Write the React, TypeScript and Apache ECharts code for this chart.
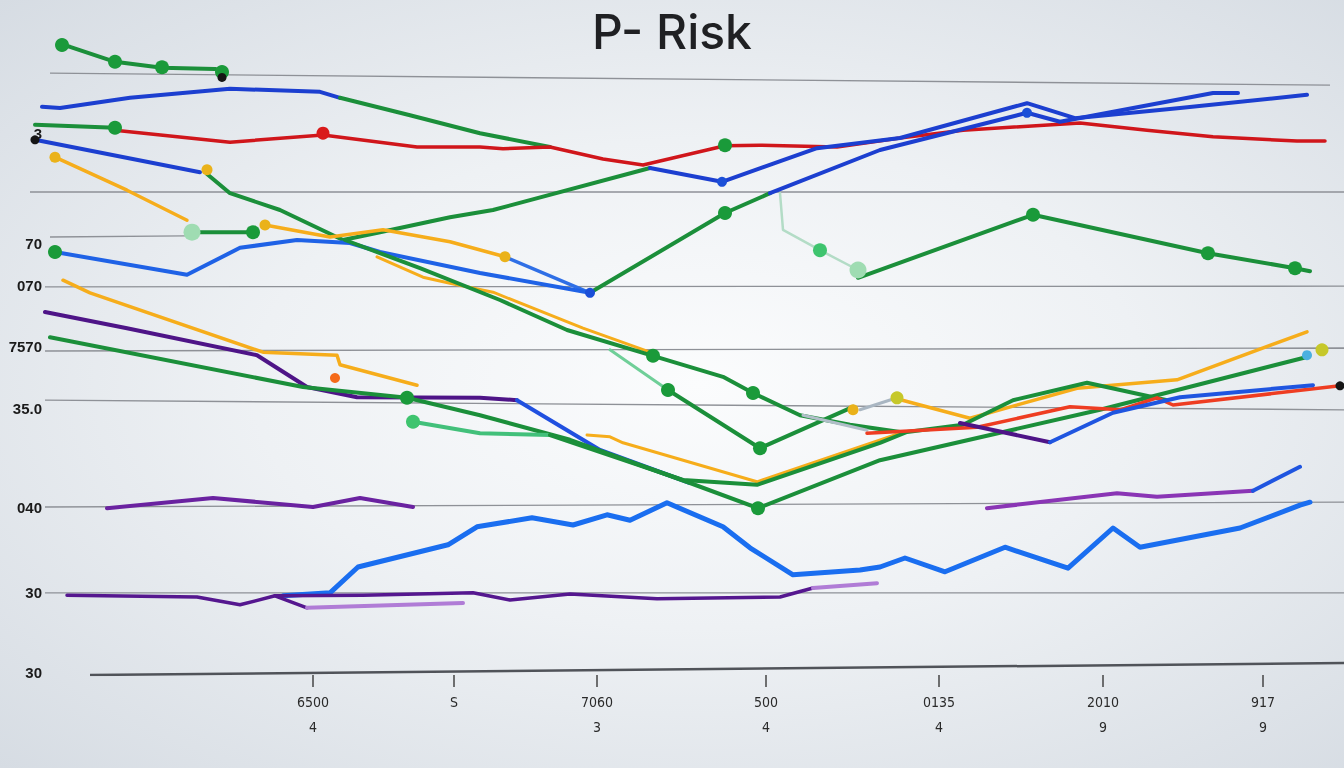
import React, { useEffect, useRef } from "react";
import * as echarts from "echarts";

// ---------- tick labels ----------
const xTicks = [28.3, 42.4, 56.7, 73.6, 90.9, 107.3, 123.3];
const xTickLabels = ["6500\n4", "S", "7060\n3", "500\n4", "0135\n4", "2010\n9", "917\n9"];
const yTicks = [90.3, 72, 65, 54.7, 44.5, 28, 13.8, 0.5];
const yTickLabels = ["3", "70", "070", "7570", "35.0", "040", "30", "30"];
const titleText = "P- Risk";

// ---------- guide lines ----------
const gridLines = [
  [[2, 100.3], [130, 98.3]],
  [[0, 80.5], [131.4, 80.5]],
  [[2, 73], [15.5, 73.2]],
  [[1.5, 64.7], [131.4, 64.8]],
  [[1.5, 54], [131.4, 54.5]],
  [[1.5, 45.8], [131.4, 44.2]],
  [[1.5, 28], [131.4, 28.8]],
  [[1.5, 13.7], [131.4, 13.7]],
];
const baseLine = [[6, 0], [131.4, 2]];

// ---------- series values ----------
const sA = [[3.2, 105], [4, 104.7], [8.5, 102.2], [13.2, 101.2], [18.5, 101], [19.2, 100.7]];
const sB = [[1.2, 94.7], [3, 94.5], [10, 96.2], [20, 97.7], [29, 97.2], [31, 96.2]];
const sC = [[31, 96.2], [38, 93.3], [45, 90.3], [52, 88]];
const sD = [[0.5, 91.7], [8.5, 91.2]];
const sE = [[8.5, 90.8], [20, 88.8], [29.3, 90], [38.7, 88], [45, 88], [47.3, 87.7], [52, 88], [57.3, 86], [61.3, 85], [69.5, 88.2], [73, 88.3], [80.7, 88], [87, 89.5], [93.3, 90.8], [105, 92], [111.7, 90.8], [118.3, 89.7], [126.7, 89], [129.5, 89]];
const sF = [[0.5, 89.2], [17, 83.8]];
const sG = [[17.7, 83.5], [20, 80.3], [25, 77.5], [31.3, 72.5], [35, 73.8], [42, 76.3], [46.3, 77.5], [62, 84.5]];
const sH = [[62, 84.5], [69.2, 82.2], [78.7, 87.8], [87, 89.5], [99.7, 95.3], [104.5, 92.8], [115, 94.5], [127.7, 96.7]];
const sIgreen = [[56, 63.7], [69.5, 77], [74, 80.3]];
const sIblue = [[74, 80.3], [85, 87.5], [99.7, 93.7], [103, 92.2], [118.3, 97], [120.8, 97]];
const sJ = [[75, 80.3], [75.3, 74.2], [79, 70.8], [82.8, 67.5]];
const sK = [[82.8, 66.2], [100.3, 76.7], [117.8, 70.3], [126.5, 67.8], [128, 67.3]];
const sL = [[2.5, 86.3], [9.7, 80.8], [15.7, 75.8]];
const sM = [[16.2, 73.8], [22.3, 73.8]];
const sN = [[23.5, 75], [30, 73], [35.3, 74.2], [42, 72.2], [47.5, 69.7]];
const sNblue = [[47.5, 69.7], [56, 63.7]];
const sO = [[2.5, 70.5], [15.7, 66.7], [21, 71.2], [26.7, 72.5], [32, 72], [35, 70.5], [45, 67], [56, 63.7]];
const sP = [[34.7, 69.7], [39.3, 66.3], [42, 65.3], [46.3, 63.8], [55.3, 57.8], [62, 53.8]];
const sQ = [[31.5, 72.5], [39, 67.8], [47, 62.5], [53.7, 57.5], [62.3, 53.2], [69.3, 49.7], [72.3, 47], [77, 43.3], [82, 41.7], [87, 40.5]];
const sRpale = [[58, 54.2], [63.8, 47.5]];
const sR = [[63.8, 47.5], [73, 37.8], [82.3, 44.7]];
const sGrey1 = [[77.3, 43.3], [83.7, 40.8]];
const sGrey2 = [[83, 44.2], [86.7, 46.2]];
const sS = [[3.3, 65.8], [6, 63.7], [23.3, 53.8], [30.7, 53.3], [31, 51.7], [38.7, 48.3]];
const sS2 = [[55.7, 40], [58, 39.7], [59.3, 38.7], [72.7, 32.2], [87, 40.3]];
const sT = [[86.3, 46.2], [94, 42.8], [104.7, 47.8], [114.7, 49.2], [127.7, 57.2]];
const sU = [[1.5, 60.5], [9.7, 57.8], [22.7, 53.3], [27.7, 48], [32.7, 46.3], [45, 46.2], [48.7, 45.8]];
const sUblue = [[48.7, 45.8], [57, 37.5], [66, 32]];
const sV = [[2, 56.3], [27.3, 48], [37.7, 46.2], [45, 43.3], [54, 39.2], [66, 32], [72.8, 27.8], [85, 35.8], [107, 44.2], [127.7, 53]];
const sWpale = [[38.3, 42.2], [45, 40.3], [52, 40]];
const sW = [[52, 40], [65.3, 32.5], [72.7, 31.7], [85, 38.7], [87.7, 40.5], [93.3, 41.7], [98.3, 45.8], [105.7, 48.7], [113.7, 45.8]];
const sX = [[83.7, 40.3], [94.7, 41.3], [104, 44.7], [109, 44.2], [112.7, 46.2], [114.3, 45], [131, 48.2]];
const sYpurple = [[93, 42], [102, 38.8]];
const sYblue = [[102, 38.8], [108.3, 43.7], [115, 46.3], [128.3, 48.3]];
const sZ = [[7.7, 27.8], [18.3, 29.5], [28.3, 28], [33, 29.5], [38.3, 28]];
const sAA = [[95.7, 27.8], [108.7, 30.3], [112.7, 29.7], [122.3, 30.7]];
const sAAblue = [[122.3, 30.7], [127, 34.7]];
const sAB = [[25.3, 13.2], [30, 13.7], [32.8, 18], [41.8, 21.7], [44.7, 24.7], [50.2, 26.2], [54.3, 25], [57.7, 26.7], [60, 25.8], [63.7, 28.7], [69.3, 24.7], [72, 21.2], [76.3, 16.7], [83, 17.5], [85, 18], [87.5, 19.5], [91.5, 17.2], [97.5, 21.3], [103.8, 17.8], [108.3, 24.5], [111, 21.3], [121, 24.5], [127, 28.3], [128, 28.8]];
const sAC1 = [[3.7, 13.3], [16.7, 13], [21, 11.7], [24.5, 13.2], [27.7, 11.2]];
const sAC1pale = [[27.7, 11.2], [43.3, 12]];
const sAC2 = [[24.5, 13.2], [33.3, 13.3], [44.3, 13.7], [48, 12.5], [54, 13.5], [62.7, 12.7], [75, 13], [78.3, 14.5]];
const sAC2pale = [[78.3, 14.5], [84.7, 15.3]];

// ---------- dots ----------
const greenDots = [[3.2, 105], [8.5, 102.2], [13.2, 101.3], [19.2, 100.5], [8.5, 91.2], [69.5, 88.3], [69.5, 77], [100.3, 76.7], [117.8, 70.3], [126.5, 67.8], [2.5, 70.5], [22.3, 73.8], [62.3, 53.2], [72.3, 47], [63.8, 47.5], [73, 37.8], [37.7, 46.2], [72.8, 27.8]];
const midGreenDots = [[79, 70.8], [38.3, 42.2]];
const paleGreenDots = [[16.2, 73.8], [82.8, 67.5]];
const redDots = [[29.3, 90.3]];
const yellowDots = [[2.5, 86.3], [17.7, 84.2], [23.5, 75], [47.5, 69.7], [82.3, 44.2]];
const limeDots = [[86.7, 46.2], [129.2, 54.2]];
const orangeDots = [[30.5, 49.5]];
const blueDots = [[69.2, 82.2], [99.7, 93.7], [56, 63.7]];
const skyDots = [[127.7, 53.3]];
const blackDots = [[0.5, 89.2], [19.2, 99.6], [131, 48.2]];

const GREEN = "#1b8f3a";
const BLUE = "#1c3fd0";
const BLUE2 = "#1f62e6";
const RED = "#d0161b";
const YELLOW = "#f6ad1b";
const PURPLE = "#4e1487";

export default function App() {
  const ref = useRef<HTMLDivElement>(null);
  useEffect(() => {
    if (!ref.current) return;
    const chart = echarts.init(ref.current, null, { renderer: "svg" });

    const lineDefs: [number[][], string, number][] = [
      [sA, GREEN, 4], [sB, BLUE, 4], [sC, GREEN, 4], [sD, GREEN, 4], [sE, RED, 3.5],
      [sF, BLUE, 4], [sG, GREEN, 4], [sH, BLUE, 4], [sIgreen, GREEN, 4], [sIblue, BLUE, 4],
      [sJ, "#b3dcc6", 2.5], [sK, GREEN, 4], [sL, YELLOW, 3.5], [sM, GREEN, 4], [sN, YELLOW, 3.5],
      [sNblue, "#2f6fe6", 3.5], [sO, BLUE2, 4], [sP, YELLOW, 3], [sQ, GREEN, 4], [sRpale, "#6fcf98", 3],
      [sR, GREEN, 4], [sGrey1, "#b0bec8", 3], [sGrey2, "#a9b6c2", 3], [sS, YELLOW, 3.5], [sS2, YELLOW, 3],
      [sT, YELLOW, 3.5], [sU, PURPLE, 4], [sUblue, "#2050e0", 4], [sV, GREEN, 4], [sWpale, "#42c07a", 4],
      [sW, GREEN, 4], [sX, "#ee3d22", 3.5], [sYpurple, PURPLE, 4], [sYblue, "#1f55e0", 4], [sZ, "#6a22a0", 4],
      [sAA, "#8a35b5", 4], [sAAblue, "#1f55e0", 4], [sAB, "#1a6ef0", 5], [sAC1, "#55178f", 3.5],
      [sAC1pale, "#b07cd6", 4], [sAC2, "#55178f", 3.5], [sAC2pale, "#b07cd6", 4],
    ];

    const dotDefs: [number[][], string, number][] = [
      [greenDots, "#1a9a3a", 14], [midGreenDots, "#3ec46e", 14], [paleGreenDots, "#9fdcb2", 17],
      [redDots, "#d91a1a", 13], [yellowDots, "#eab21a", 11], [limeDots, "#c6c82a", 13],
      [orangeDots, "#f56a1a", 10], [blueDots, "#1b4fd8", 10], [skyDots, "#4ab0e0", 10], [blackDots, "#151515", 9],
    ];

    const series: any[] = [];
    gridLines.forEach((g) => series.push({
      type: "line", data: g, silent: true, symbol: "none", z: 1,
      lineStyle: { color: "#8e9197", width: 1.3 },
    }));
    series.push({
      type: "line", data: baseLine, silent: true, symbol: "none", z: 1,
      lineStyle: { color: "#505359", width: 2.5 },
    });
    lineDefs.forEach(([d, c, w]) => series.push({
      type: "line", data: d, symbol: "none", z: 3,
      lineStyle: { color: c, width: w, cap: "round", join: "round" },
    }));
    dotDefs.forEach(([d, c, s]) => series.push({
      type: "scatter", data: d, symbolSize: s, z: 5,
      itemStyle: { color: c, opacity: 1 },
    }));

    chart.setOption({
      animation: false,
      backgroundColor: "transparent",
      title: {
        text: titleText, left: "center", top: 2,
        textStyle: { fontSize: 48, fontWeight: 500, color: "#1f2023", fontFamily: "Inter" },
      },
      grid: { left: 30, right: 0, top: 15, bottom: 93 },
      xAxis: {
        type: "value", min: 0, max: 131.4,
        splitLine: { show: false },
        axisLine: { show: false },
        axisTick: { show: true, customValues: xTicks, length: 12, lineStyle: { color: "#444", width: 1.5 } },
        axisLabel: {
          customValues: xTicks, margin: 14, fontSize: 14, lineHeight: 25, color: "#2a2a2a",
          fontFamily: "DejaVu Sans Condensed, DejaVu Sans",
          formatter: (v: number) => { const i = xTicks.indexOf(v); return i >= 0 ? xTickLabels[i] : ""; },
        },
      },
      yAxis: {
        type: "value", min: 0, max: 110, offset: -14,
        splitLine: { show: false },
        axisLine: { show: false },
        axisTick: { show: false },
        axisLabel: {
          customValues: yTicks, margin: 2, fontSize: 15, fontWeight: "bold", color: "#1a1a1a",
          fontFamily: "Liberation Sans",
          formatter: (v: number) => { const i = yTicks.indexOf(v); return i >= 0 ? yTickLabels[i] : ""; },
        },
      },
      series,
    });
    return () => chart.dispose();
  }, []);

  return (
    <div
      style={{
        position: "fixed", left: 0, top: 0, width: 1344, height: 768,
        background: "radial-gradient(ellipse at 52% 50%, #fbfcfd 0%, #eef1f4 45%, #d6dce3 100%)",
      }}
    >
      <div ref={ref} style={{ width: 1344, height: 768 }} />
    </div>
  );
}
